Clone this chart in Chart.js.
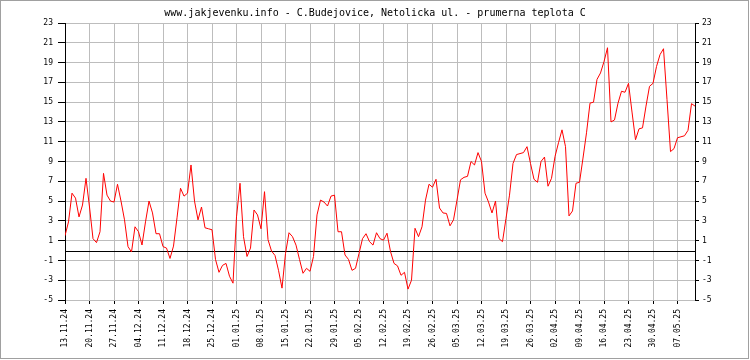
<!DOCTYPE html>
<html>
<head>
<meta charset="utf-8">
<script src="https://cdn.jsdelivr.net/npm/chart.js@4/dist/chart.umd.min.js"></script>
<style>
html,body{margin:0;padding:0;background:#fff;}
canvas{display:block;}
</style>
</head>
<body>
<canvas id="c" width="750" height="360"></canvas>
<script>
const chartTitle = "www.jakjevenku.info - C.Budejovice, Netolicka ul. - prumerna teplota C";
// daily mean temperature, day 0 = 13.11.24
const temps = [
1.5,2.9,5.8,5.3,3.4,4.6,7.3,4.4,1.2,0.8,
1.9,7.8,5.6,5.0,4.9,6.7,5.0,3.1,0.4,-0.15,
2.4,1.9,0.56,2.9,5.0,3.8,1.7,1.7,0.4,0.25,
-0.8,0.45,3.3,6.3,5.5,5.8,8.65,5.0,3.1,4.4,
2.3,2.2,2.1,-0.9,-2.2,-1.5,-1.3,-2.6,-3.3,3.4,
6.8,1.4,-0.6,0.25,4.1,3.6,2.2,5.95,1.1,-0.05,
-0.5,-2.0,-3.8,-0.3,1.8,1.4,0.55,-0.9,-2.3,-1.8,
-2.1,-0.6,3.6,5.1,4.9,4.5,5.5,5.6,1.9,1.9,
-0.45,-0.9,-2.0,-1.8,-0.3,1.2,1.7,0.9,0.55,1.8,
1.2,1.05,1.75,-0.1,-1.3,-1.55,-2.5,-2.2,-3.9,-3.0,
2.25,1.4,2.4,5.1,6.7,6.4,7.2,4.3,3.8,3.75,
2.5,3.1,5.1,7.15,7.4,7.5,9.0,8.65,9.9,9.0,
5.8,4.9,3.8,5.0,1.2,0.9,3.25,5.6,8.8,9.7,
9.8,9.9,10.5,8.8,7.2,6.9,9.0,9.45,6.5,7.3,
9.5,10.9,12.2,10.5,3.5,4.0,6.8,6.9,9.35,11.9,
14.9,15.0,17.3,17.95,19.1,20.5,13.0,13.2,14.9,16.1,
16.0,16.9,14.0,11.2,12.3,12.4,14.6,16.6,16.9,18.6,
19.8,20.4,15.25,10.0,10.3,11.4,11.5,11.6,12.15,14.85,
14.6
];
const tickDays = [0,7,14,21,28,35,42,49,56,63,70,77,84,91,98,105,112,119,126,133,140,147,154,161,168,175];
const tickLabels = ["13.11.24","20.11.24","27.11.24","04.12.24","11.12.24","18.12.24","25.12.24","01.01.25","08.01.25","15.01.25","22.01.25","29.01.25","05.02.25","12.02.25","19.02.25","26.02.25","05.03.25","12.03.25","19.03.25","26.03.25","02.04.25","09.04.25","16.04.25","23.04.25","30.04.25","07.05.25"];
const yMin = -5, yMax = 23, yStep = 2;
const xMax = temps.length - 1;

const GRID = '#bdbdbd';
const TICK_FONT = {family: 'DejaVu Sans Mono', size: 8};
Chart.defaults.font.family = 'DejaVu Sans Mono';
Chart.defaults.font.size = 8;
Chart.defaults.color = '#000';

const decor = {
  id: 'decor',
  beforeDatasetsDraw(chart) {
    const ctx = chart.ctx, a = chart.chartArea;
    const y0 = Math.round(chart.scales.y.getPixelForValue(0)) + 0.5;
    ctx.save();
    ctx.strokeStyle = '#000';
    ctx.lineWidth = 1;
    ctx.beginPath();
    ctx.moveTo(a.left, y0);
    ctx.lineTo(a.right, y0);
    ctx.stroke();
    ctx.restore();
  },
  afterDraw(chart) {
    const ctx = chart.ctx;
    ctx.save();
    ctx.strokeStyle = '#a0a0a0';
    ctx.lineWidth = 1;
    ctx.strokeRect(0.5, 0.5, 748, 358);
    ctx.fillStyle = '#000';
    ctx.font = '10px "DejaVu Sans Mono"';
    ctx.textAlign = 'center';
    ctx.textBaseline = 'middle';
    ctx.fillText(chartTitle, 375, 13);
    ctx.restore();
  }
};

new Chart(document.getElementById('c'), {
  type: 'line',
  data: {
    datasets: [{
      data: temps.map((v, i) => ({x: i, y: v})),
      borderColor: '#ff0000',
      borderWidth: 1,
      pointRadius: 0,
      tension: 0,
      fill: false
    }]
  },
  options: {
    responsive: false,
    animation: false,
    devicePixelRatio: 1,
    layout: {padding: {top: 23, left: 0, right: 0, bottom: 0}},
    plugins: {legend: {display: false}, tooltip: {enabled: false}, title: {display: false}},
    scales: {
      x: {
        type: 'linear',
        min: 0,
        max: xMax,
        afterBuildTicks(s) { s.ticks = tickDays.map(v => ({value: v})); },
        afterFit(s) { s.height = 60; },
        ticks: {
          font: TICK_FONT,
          autoSkip: false,
          maxRotation: 90,
          minRotation: 90,
          padding: 5,
          callback(v) { const i = tickDays.indexOf(v); return i >= 0 ? tickLabels[i] : ''; }
        },
        grid: {color: GRID, tickColor: '#000', tickLength: 4, lineWidth: 1},
        border: {display: false}
      },
      y: {
        position: 'left',
        min: yMin,
        max: yMax,
        afterFit(s) { s.width = 65; },
        ticks: {stepSize: yStep, padding: 5, font: TICK_FONT},
        grid: {color: GRID, tickColor: '#000', tickLength: 7},
        border: {display: true, color: '#000', width: 1}
      },
      y2: {
        position: 'right',
        min: yMin,
        max: yMax,
        afterFit(s) { s.width = 55; },
        ticks: {stepSize: yStep, padding: 3, font: TICK_FONT},
        grid: {drawOnChartArea: false, tickColor: '#000', tickLength: 4},
        border: {display: true, color: '#000', width: 1}
      }
    }
  },
  plugins: [decor]
});
</script>
</body>
</html>
